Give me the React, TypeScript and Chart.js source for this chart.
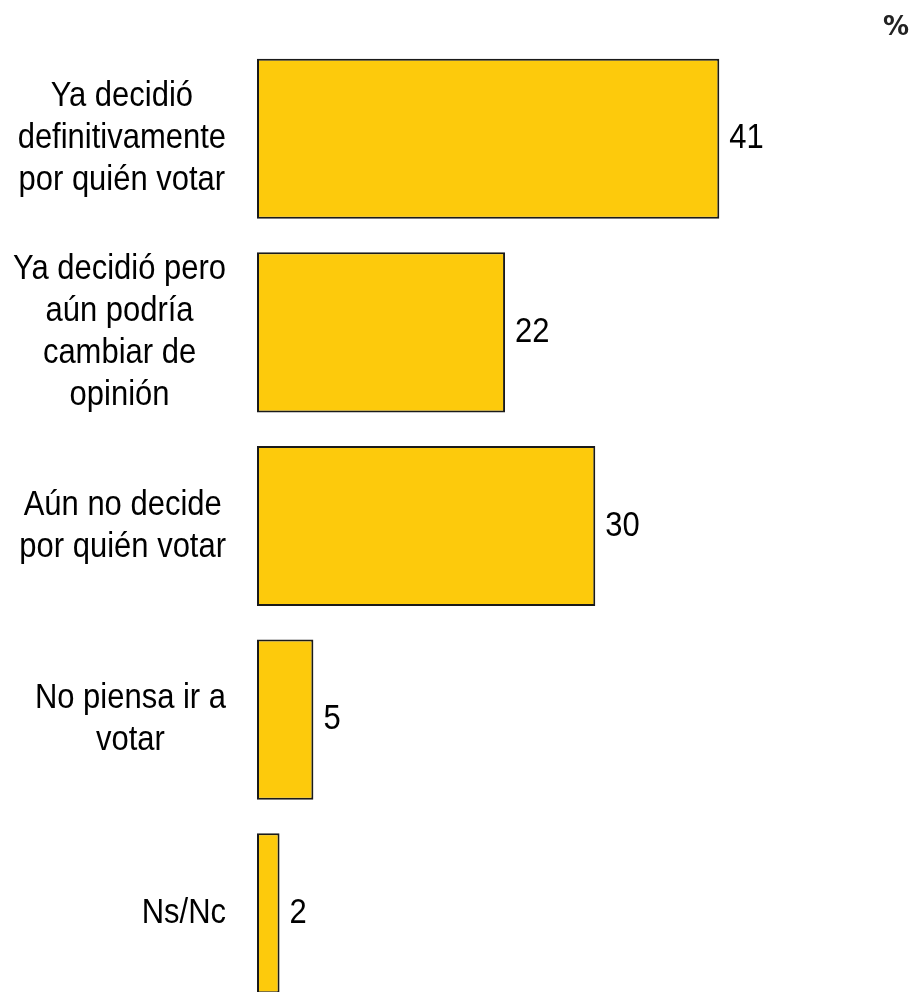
import React, { useEffect, useRef } from "react";
import { Chart, registerables } from "chart.js";

Chart.register(...registerables);

const categories: string[][] = [
  ["Ya decidió", "definitivamente", "por quién votar"],
  ["Ya decidió pero", "aún podría", "cambiar de", "opinión"],
  ["Aún no decide", "por quién votar"],
  ["No piensa ir a", "votar"],
  ["Ns/Nc"],
];
const values: number[] = [41, 22, 30, 5, 2];
const unitLabel = "%";

const BAR_COLOR = "#FDCA0C";
const FONT = "35px 'Liberation Sans', Arial, sans-serif";
const SX = 0.885;
const LINE_H = 42;

const textPlugin = {
  id: "customText",
  afterDatasetsDraw(chart: any) {
    const ctx: CanvasRenderingContext2D = chart.ctx;
    const yScale = chart.scales.y;
    const meta = chart.getDatasetMeta(0);
    ctx.save();
    ctx.font = FONT;
    ctx.fillStyle = "#000";
    ctx.textBaseline = "middle";
    categories.forEach((lines, i) => {
      const cy = yScale.getPixelForValue(i);
      const widths = lines.map((l) => ctx.measureText(l).width * SX);
      const maxW = Math.max(...widths);
      const cx = 226 - maxW / 2;
      const startY = cy - ((lines.length - 1) * LINE_H) / 2;
      lines.forEach((l, j) => {
        ctx.save();
        ctx.translate(cx, startY + j * LINE_H);
        ctx.scale(SX, 1);
        ctx.textAlign = "center";
        ctx.fillText(l, 0, 0);
        ctx.restore();
      });
    });
    meta.data.forEach((bar: any, i: number) => {
      ctx.save();
      ctx.translate(bar.x + 10, bar.y);
      ctx.scale(SX, 1);
      ctx.textAlign = "left";
      ctx.fillText(String(values[i]), 0, 0);
      ctx.restore();
    });
    ctx.font = "bold 26px 'DejaVu Sans', sans-serif";
    ctx.fillStyle = "#222";
    ctx.textAlign = "center";
    ctx.fillText(unitLabel, 896, 28);
    ctx.restore();
  },
};

export default function App() {
  const ref = useRef<HTMLCanvasElement | null>(null);
  useEffect(() => {
    if (!ref.current) return;
    const chart = new Chart(ref.current, {
      type: "bar",
      data: {
        labels: categories.map((c) => c.join(" ")),
        datasets: [
          {
            data: values,
            backgroundColor: BAR_COLOR,
            borderColor: "#1a1a1a",
            borderWidth: 2,
            borderSkipped: false,
            barPercentage: 0.827,
            categoryPercentage: 1,
          },
        ],
      },
      options: {
        indexAxis: "y",
        responsive: false,
        animation: false,
        maintainAspectRatio: false,
        layout: { padding: { left: 257, right: 6, top: 42, bottom: 0 } },
        plugins: { legend: { display: false }, tooltip: { enabled: false } },
        scales: {
          x: { display: false, min: 0, max: 58 },
          y: { display: false },
        },
      },
      plugins: [textPlugin],
    });
    return () => chart.destroy();
  }, []);
  return (
    <div style={{ position: "fixed", left: 0, top: 0, width: 917, height: 992, overflow: "hidden", background: "#fff" }}>
      <canvas ref={ref} width={917} height={1010} style={{ display: "block" }} />
    </div>
  );
}
